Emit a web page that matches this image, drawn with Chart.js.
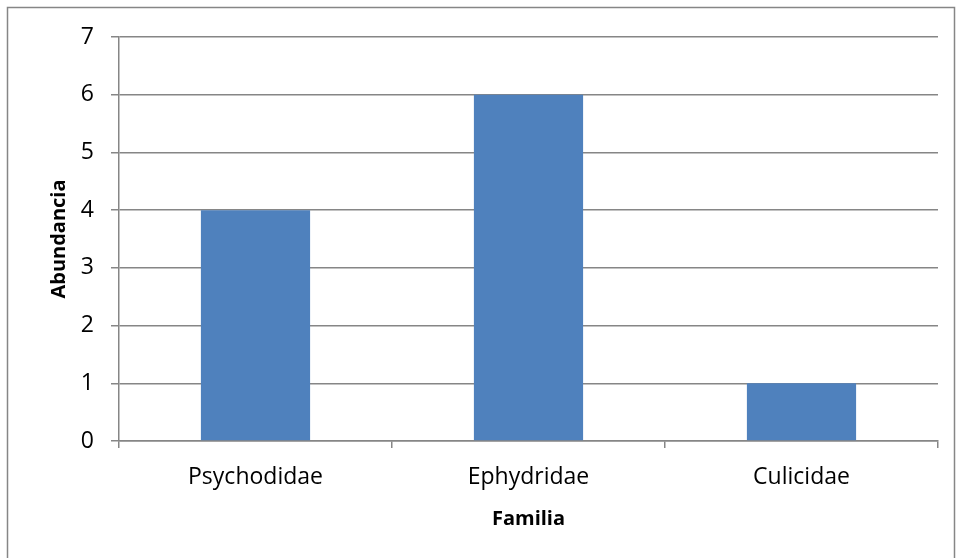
<!DOCTYPE html>
<html>
<head>
<meta charset="utf-8">
<script src="https://cdn.jsdelivr.net/npm/chart.js@4/dist/chart.umd.min.js"></script>
<style>
  html, body { margin: 0; padding: 0; background: #fff; }
  #wrap { width: 956px; height: 558px; position: relative; }
</style>
</head>
<body>
<div id="wrap"><canvas id="chart" width="956" height="558"></canvas></div>
<script>
// Data
var familias = ['Psychodidae', 'Ephydridae', 'Culicidae'];
var abundancia = [4, 6, 1];
var yTicks = [0, 1, 2, 3, 4, 5, 6, 7];

var gridGray = '#868686';
var fontFam = '"Open Sans", sans-serif';

// outer frame like the Excel chart area
var framePlugin = {
  id: 'frame',
  afterDraw: function(chart) {
    var ctx = chart.ctx;
    ctx.save();
    ctx.strokeStyle = '#868686';
    ctx.lineWidth = 1.5;
    ctx.strokeRect(7.5, 7.5, 947, 600);
    ctx.restore();
  }
};

new Chart(document.getElementById('chart').getContext('2d'), {
  type: 'bar',
  data: {
    labels: familias,
    datasets: [{
      data: abundancia,
      backgroundColor: '#4F81BD',
      borderWidth: 0,
      barPercentage: 0.4,
      categoryPercentage: 1.0
    }]
  },
  options: {
    responsive: false,
    animation: false,
    devicePixelRatio: 1,
    layout: { padding: { left: 8, top: 37, right: 18, bottom: 0 } },
    plugins: {
      legend: { display: false },
      tooltip: { enabled: false }
    },
    scales: {
      x: {
        offset: true,
        grid: {
          offset: true,
          drawOnChartArea: false,
          color: gridGray,
          tickLength: 7,
          lineWidth: 1.5
        },
        border: { display: true, color: gridGray, width: 1.5 },
        ticks: { color: '#000', padding: 16, font: { family: fontFam, size: 23 } },
        title: {
          display: true,
          text: 'Familia',
          color: '#000',
          font: { family: fontFam, size: 20, weight: 'bold' },
          padding: { top: 0, bottom: 27 }
        },
        afterFit: function(scale) { scale.height = 117; }
      },
      y: {
        min: 0,
        max: 7,
        afterBuildTicks: function(scale) {
          scale.ticks = yTicks.map(function(v) { return { value: v }; });
        },
        grid: { color: gridGray, tickLength: 8, lineWidth: 1.5 },
        border: { display: true, color: gridGray, width: 1.5 },
        ticks: { color: '#000', padding: 17, font: { family: fontFam, size: 23 } },
        title: {
          display: true,
          text: 'Abundancia',
          color: '#000',
          font: { family: fontFam, size: 20, weight: 'bold' },
          padding: { top: 39, bottom: 0 }
        },
        afterFit: function(scale) { scale.width = 111; }
      }
    }
  },
  plugins: [framePlugin]
});
</script>
</body>
</html>
